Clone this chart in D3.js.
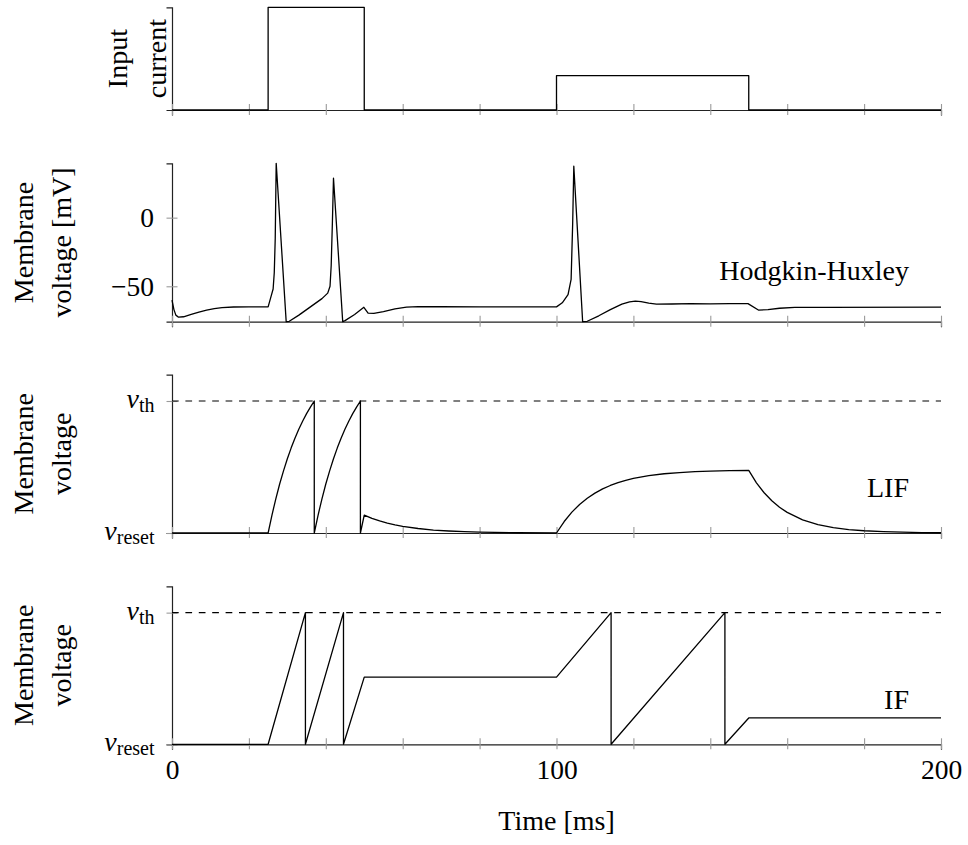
<!DOCTYPE html>
<html lang="en">
<head>
<meta charset="UTF-8">
<title>Neuron models</title>
<script src="https://cdn.jsdelivr.net/npm/d3@7"></script>
<style>
  body { margin: 0; background: #fff; }
  svg text { font-family: "Liberation Serif", "Times New Roman", Tinos, "DejaVu Serif", "Noto Serif", serif; fill: #000; }
  .trace { fill: none; stroke: #000; stroke-width: 1.3; stroke-linejoin: round; }
  .axis path.domain { stroke: #222; stroke-width: 1.2; }
  .axis line { stroke: #9a9a9a; stroke-width: 1.1; }
  .axis text { font-size: 27.5px; }
</style>
</head>
<body>
<svg id="main" width="968" height="845"></svg>
<script>
// input current (normalised)
const currentTime  = [0, 25, 25, 50, 50, 100, 100, 150, 150, 200];
const currentValue = [0, 0, 1, 1, 0, 0, 0.334, 0.334, 0, 0];

// Hodgkin-Huxley membrane voltage [mV]
const hhTime = [0, 0.5, 1, 1.7, 3, 5, 7, 9, 11, 13, 16, 20, 25, 25.8, 26.3, 26.6, 26.85, 27.1, 29.7,
  30.5, 33, 36, 39, 40.5, 41.1, 41.4, 41.7, 42, 44.4, 45, 47.5, 49.9, 51, 52.5, 55, 58, 61, 64, 70, 80,
  100, 101.5, 103, 103.8, 104.2, 104.5, 106.8, 108, 111, 114, 117, 119, 120.5, 122, 124, 126, 130, 135, 140,
  145, 149.8, 152.5, 155, 158, 162, 170, 200];
const hhVoltage = [-60, -67, -71, -72.5, -72.2, -70.5, -68.8, -67.3, -66.2, -65.5, -65.1, -65, -65, -57, -52, -40, -15, 39.6, -75.8,
  -75.5, -71, -65, -59, -55, -50, -35, -5, 28.7, -75.8, -75, -70.5, -65.3, -69.5, -69.8, -68.5, -66.5, -65.2, -64.8, -64.9, -65,
  -65, -62, -56, -45, -5, 37.5, -75.8, -75.5, -71.5, -67, -63, -61.4, -60.8, -61.2, -62.3, -63, -62.9, -62.6, -62.8,
  -62.7, -62.6, -67.3, -67, -66, -65.3, -65.3, -65.2];

// leaky integrate-and-fire (v_reset = 0, v_th = 1)
const lifTime = [0, 25, 26, 27, 28, 29, 30, 31, 32, 33, 34, 35, 36, 37, 37, 38, 39, 40, 41, 42, 43, 44, 45, 46,
  47, 48, 49, 49, 50, 52, 54, 56, 58, 60, 64, 68, 72, 76, 80, 90, 100, 102, 104, 106, 108, 110, 112, 114,
  116, 118, 120, 124, 128, 132, 136, 140, 145, 150, 152, 154, 156, 158, 160, 164, 168, 172, 176, 180, 185,
  190, 195, 200];
const lifVoltage = [0, 0, 0.136, 0.259, 0.371, 0.471, 0.563, 0.645, 0.720, 0.788, 0.849, 0.904, 0.954, 1, 0, 0.136,
  0.259, 0.371, 0.471, 0.563, 0.645, 0.720, 0.788, 0.849, 0.904, 0.954, 1, 0, 0.136, 0.111, 0.091, 0.075, 0.061,
  0.050, 0.034, 0.022, 0.015, 0.010, 0.007, 0.002, 0, 0.087, 0.158, 0.216, 0.263, 0.302, 0.334, 0.360, 0.381,
  0.399, 0.413, 0.435, 0.449, 0.458, 0.465, 0.469, 0.473, 0.475, 0.380, 0.305, 0.244, 0.195, 0.156, 0.100,
  0.064, 0.041, 0.026, 0.017, 0.010, 0.006, 0.003, 0.002];

// integrate-and-fire
const ifTime    = [0, 25, 34.7, 34.7, 44.6, 44.6, 50, 100, 114.2, 114.2, 143.8, 143.8, 150, 200];
const ifVoltage = [0, 0, 1, 0, 1, 0, 0.51, 0.51, 1, 0, 1, 0, 0.2, 0.2];

const timeTicks = d3.range(0, 201, 20);
const timeLabels = [0, 100, 200];
const hhTicks = [-50, 0];

const serif = '"Liberation Serif", "Times New Roman", Tinos, "DejaVu Serif", "Noto Serif", serif';

let svg = d3.select('svg#main').attr('font-family', serif);
let x = d3.scaleLinear().domain([0, 200]).range([172, 941]);

let panels = [
  {top: 7.3, bottom: 110, domain: [0, 1], t: currentTime, v: currentValue,
   title: ['Input', 'current'], titleX: [127, 166]},
  {top: 163.3, bottom: 321.7, domain: [-75.8, 39.6], t: hhTime, v: hhVoltage,
   title: ['Membrane', 'voltage [mV]'], titleX: [33, 71], name: 'Hodgkin-Huxley', nameY: 280},
  {top: 374.6, bottom: 533, domain: [0, 1.2], t: lifTime, v: lifVoltage, thresh: true,
   title: ['Membrane', 'voltage'], titleX: [33, 71], name: 'LIF', nameY: 497},
  {top: 586.3, bottom: 744.3, domain: [0, 1.2], t: ifTime, v: ifVoltage, thresh: true,
   title: ['Membrane', 'voltage'], titleX: [33, 71], name: 'IF', nameY: 709}
];

panels.forEach(function(p, i) {
  let y = d3.scaleLinear().domain(p.domain).range([p.bottom, p.top]);
  let g = svg.append('g');

  // y axis
  let yAxis = d3.axisLeft(y).tickSizeOuter(0).tickSize(5.5);
  if (i === 1) {
    yAxis.tickValues(hhTicks).tickFormat(d => d < 0 ? '\u2212' + Math.abs(d) : d);
  } else if (p.thresh) {
    yAxis.tickValues([0, 1]).tickFormat('');
  } else {
    yAxis.tickValues([]);
  }
  let ya = g.append('g').attr('class', 'axis').attr('transform', 'translate(172,0)').call(yAxis);
  ya.attr('font-family', serif);
  ya.selectAll('.tick line').attr('x1', 5.5).attr('x2', -5.5);
  ya.selectAll('.tick text').attr('x', -18);

  // x axis
  let xAxis = d3.axisBottom(x).tickValues(timeTicks).tickSizeOuter(0).tickSize(5.5)
    .tickFormat(d => (i === 3 && timeLabels.includes(d)) ? d : '');
  let xa = g.append('g').attr('class', 'axis').attr('transform', 'translate(0,' + p.bottom + ')').call(xAxis);
  xa.attr('font-family', serif);
  xa.selectAll('.tick line').attr('y1', -6).attr('y2', 5);
  xa.selectAll('.tick text').attr('y', 15.5);

  // threshold line and v labels
  if (p.thresh) {
    g.append('line')
      .attr('x1', x(0)).attr('x2', x(200))
      .attr('y1', y(1)).attr('y2', y(1))
      .attr('stroke', '#000').attr('stroke-width', 1.1)
      .attr('stroke-dasharray', '6.7 6.7');
    [[1, 'th'], [0, 'reset']].forEach(function(lv) {
      let t = g.append('text')
        .attr('x', 154.5).attr('y', y(lv[0]) + 7)
        .attr('text-anchor', 'end').style('font-size', '28px');
      t.append('tspan').style('font-style', 'italic').text('v');
      t.append('tspan').attr('dy', 4).style('font-size', '20px').text(lv[1]);
    });
  }

  // trace
  let line = d3.line().x(d => x(d[0])).y(d => y(d[1]));
  g.append('path').attr('class', 'trace').attr('d', line(d3.zip(p.t, p.v)));

  // model name
  if (p.name) {
    g.append('text').attr('x', 909).attr('y', p.nameY)
      .attr('text-anchor', 'end').style('font-size', '28px').text(p.name);
  }

  // y title, two lines
  let cy = (p.top + p.bottom) / 2;
  p.title.forEach(function(s, k) {
    g.append('text')
      .attr('transform', 'translate(' + p.titleX[k] + ',' + cy + ') rotate(-90)')
      .attr('text-anchor', 'middle').style('font-size', '28px').text(s);
  });
});

svg.append('text').attr('x', x(100)).attr('y', 830)
  .attr('text-anchor', 'middle').style('font-size', '28px').text('Time [ms]');
</script>
</body>
</html>
